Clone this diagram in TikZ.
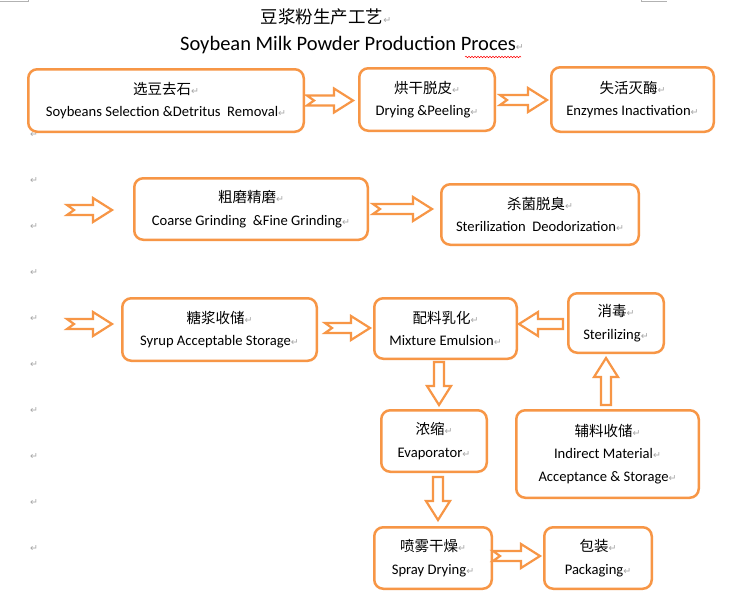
\documentclass[tikz,border=0pt]{standalone}
\usepackage{fontspec}
\setmainfont{Carlito}
\newfontfamily\cjkfont{Noto Sans CJK SC}
\newfontfamily\symfont{DejaVu Sans}
\usepackage{xcolor}
\usetikzlibrary{calc}
\usetikzlibrary{decorations.pathmorphing}
\definecolor{flowline}{RGB}{247,150,70}
\newcommand{\ret}{{\symfont\fontsize{9.5}{9.5}\selectfont\textcolor{gray!70}{↵}}}
\newcommand{\cn}[1]{{\cjkfont\fontsize{14.5}{22}\selectfont #1}\ret}
% block arrow: [notch]{tail}{tip}
\newcommand{\flowarrow}[3][0pt]{%
  \coordinate (ta) at #2; \coordinate (tb) at #3;
  \coordinate (hb) at ($(tb)!19pt!(ta)$);
  \draw[arrowbody] ($(ta)!5pt!90:(tb)$) -- ($(hb)!5pt!90:(tb)$) -- ($(hb)!12pt!90:(tb)$) -- (tb)
    -- ($(hb)!12pt!-90:(tb)$) -- ($(hb)!5pt!-90:(tb)$) -- ($(ta)!5pt!-90:(tb)$) -- ($(ta)!#1!(tb)$) -- cycle;}
\tikzset{
  stepbox/.style={draw=flowline, line width=2.5pt, rounded corners=9pt, fill=white, align=center,
    inner sep=0pt, font=\fontsize{14.6}{22.5}\selectfont},
  arrowbody/.style={draw=flowline, line width=2.2pt, fill=white},
  retmark/.style={inner sep=0pt, font=\symfont\fontsize{9.5}{9.5}\selectfont, text=gray!70}
}

\begin{document}
\begin{tikzpicture}[x=1pt,y=-1pt]
\fill[white] (0,0) rectangle (735,608);
\useasboundingbox (0,0) rectangle (735,608);
\draw[gray!60, line width=0.8pt] (0,1.2) -- (28,1.2) -- (28,0);
\draw[gray!60, line width=0.8pt] (641,0) -- (641,1.2) -- (667,1.2);

% title
\node[inner sep=0pt, font=\cjkfont\fontsize{17.5}{20}\selectfont] (titlecn) at (326,17) {豆浆粉生产工艺\ret};
\node[inner sep=0pt, font=\fontsize{20.5}{22}\selectfont] (titleen) at (352,45) {Soybean Milk Powder Production Proces\ret};
\draw[red, line width=0.5pt, decorate, decoration={snake, amplitude=0.8pt, segment length=3pt}] (465,57) -- (521,57);

% paragraph marks
\foreach \k in {0,...,9}
  \node[retmark] (par\k) at (34,{135+46*\k}) {↵};

% steps
\node[stepbox, minimum width=275.5pt, minimum height=62.5pt] (sel) at (166,100.5) {\cn{选豆去石}\\Soybeans Selection \&Detritus~~Removal\ret};
\node[stepbox, minimum width=135.5pt, minimum height=62.5pt] (dry) at (427,99.5) {\cn{烘干脱皮}\\Drying \&Peeling\ret};
\node[stepbox, minimum width=162.5pt, minimum height=64.5pt] (enz) at (632.5,99.5) {\cn{失活灭酶}\\Enzymes Inactivation\ret};
\node[stepbox, minimum width=233.5pt, minimum height=61.5pt] (coarse) at (251,209) {\cn{粗磨精磨}\\Coarse Grinding~~\&Fine Grinding\ret};
\node[stepbox, minimum width=197.5pt, minimum height=60.5pt] (ster) at (540,214.5) {\cn{杀菌脱臭}\\Sterilization~~Deodorization\ret};
\node[stepbox, minimum width=194.5pt, minimum height=62.5pt] (syrup) at (219.5,329.5) {\cn{糖浆收储}\\Syrup Acceptable Storage\ret};
\node[stepbox, minimum width=142.5pt, minimum height=60.5pt] (mix) at (445.5,328.5) {\cn{配料乳化}\\Mixture Emulsion\ret};
\node[stepbox, minimum width=95.5pt, minimum height=59.5pt] (steril) at (616,323) {\cn{消毒}\\Sterilizing\ret};
\node[stepbox, minimum width=105.5pt, minimum height=61.5pt] (evap) at (434,441) {\cn{浓缩}\\Evaporator\ret};
\node[stepbox, minimum width=182.5pt, minimum height=87.5pt] (indir) at (607.5,454) {\cn{辅料收储}\\Indirect Material\ret\\Acceptance \& Storage\ret};
\node[stepbox, minimum width=117.5pt, minimum height=61.5pt] (spray) at (433,558) {\cn{喷雾干燥}\\Spray Drying\ret};
\node[stepbox, minimum width=107.5pt, minimum height=61.5pt] (pack) at (598,558) {\cn{包装}\\Packaging\ret};

% free ends of the incoming arrows
\coordinate (in2) at (67,210);
\coordinate (in3) at (67,324);

% arrows
\flowarrow[7pt]{($(sel.east)+(2,0)$)}{($(dry.west)+(-5,1)$)}
\flowarrow[7pt]{($(dry.east)+(4,0.5)$)}{($(enz.west)+(-3,0.5)$)}
\flowarrow[7pt]{(in2)}{($(coarse.west)+(-21,1)$)}
\flowarrow[7pt]{($(coarse.east)+(4,0)$)}{($(ster.west)+(-8,-5.5)$)}
\flowarrow[7pt]{(in3)}{($(syrup.west)+(-9,-5.5)$)}
\flowarrow[7pt]{($(syrup.east)+(7,-1.5)$)}{($(mix.west)+(-3,-0.5)$)}
\flowarrow{($(steril.west)+(-4,1)$)}{($(mix.east)+(1,-4.5)$)}
\flowarrow{($(mix.south)+(-6.5,2)$)}{($(evap.north)+(5,-4)$)}
\flowarrow{($(indir.north)+(-1.5,-4)$)}{($(steril.south)+(-10,4)$)}
\flowarrow{($(evap.south)+(4,4)$)}{($(spray.north)+(5,-6)$)}
\flowarrow[7pt]{($(spray.east)+(0,-2)$)}{($(pack.west)+(-3,-2)$)}
\end{tikzpicture}
\end{document}
